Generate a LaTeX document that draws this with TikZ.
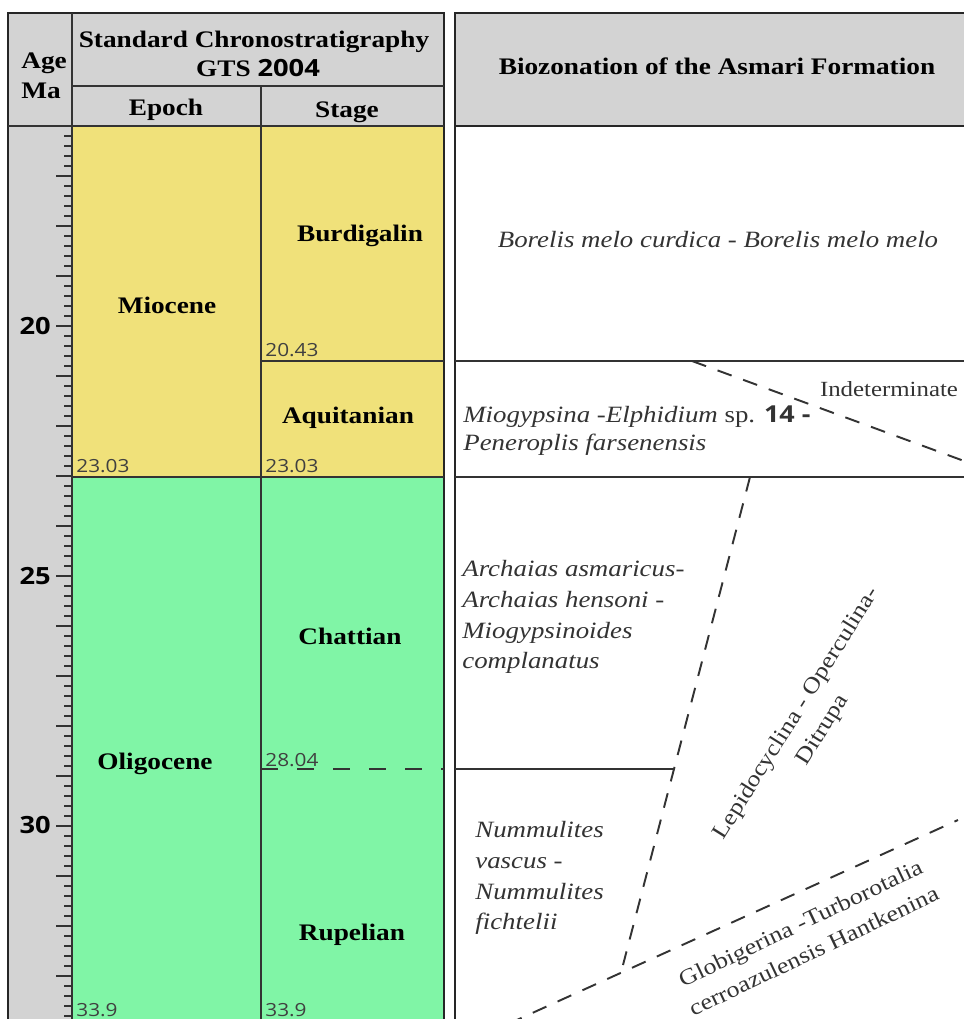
\documentclass[tikz,border=0pt]{standalone}
\usepackage{fontspec}
\setmainfont{Liberation Serif}[FakeStretch=1.15]
\newfontfamily\numfont{Open Sans}[FakeStretch=1.15]
\usepackage{tikz}
\usetikzlibrary{calc}

\definecolor{hdrgray}{RGB}{211,211,211}
\definecolor{mioyellow}{RGB}{240,225,122}
\definecolor{oligreen}{RGB}{128,245,166}

\begin{document}
\begin{tikzpicture}[x=0.02cm, y=-0.02cm,
    framestroke/.style={line width=1.6pt, black!85},
    thinrule/.style={line width=1.1pt, black!80},
    zonedash/.style={line width=1.1pt, black!80, dash pattern=on 8.5pt off 7pt},
    stagedash/.style={line width=1.1pt, black!80, dash pattern=on 9.5pt off 11pt},
    headtxt/.style={font=\fontsize{13.5}{17}\selectfont\bfseries, inner sep=0pt},
    agetxt/.style={font=\numfont\fontsize{13.5}{16}\selectfont\bfseries, anchor=east, inner sep=0pt},
    bndtxt/.style={font=\numfont\fontsize{10.3}{12}\selectfont, text=black!75, anchor=base west, inner sep=0pt},
    zonetxt/.style={font=\fontsize{13.3}{17.5}\selectfont\itshape, text=black!80, align=left, inner sep=0pt},
    slanttxt/.style={font=\fontsize{12.8}{17.5}\selectfont, text=black!80, align=center, inner sep=0pt}]

    % Column edges, in pixels of the sheet
    \def\agecol{72}
    \def\stgcol{261}
    \def\lefttab{444}
    \def\righttab{455}
    \def\headY{126}
    \def\botY{1035}

    \useasboundingbox (0,0) rectangle (964,1019);
    \clip (0,0) rectangle (964,1019);

    % Fill the headers, the age column and the epochs
    \fill[hdrgray] (8,13) rectangle (\lefttab,\headY);
    \fill[hdrgray] (8,\headY) rectangle (\agecol,\botY);
    \fill[mioyellow] (\agecol,\headY) rectangle (\lefttab,477);
    \fill[oligreen] (\agecol,477) rectangle (\lefttab,\botY);
    \fill[hdrgray] (\righttab,13) rectangle (980,\headY);

    % Ticks of the age scale, one every 0.2 Ma
    \foreach \i in {1,...,89}{
        \pgfmathtruncatemacro\tlen{mod(\i,5)==0 ? 16 : 8}
        \draw[thinrule] (\agecol-\tlen,\headY+10*\i) -- (\agecol,\headY+10*\i);
    }
    \node (ma20) at (51,326) [agetxt] {20};
    \node (ma25) at (51,576) [agetxt] {25};
    \node (ma30) at (51,825) [agetxt] {30};

    % Left table: frame and unit boundaries
    \draw[framestroke] (8,\botY) -- (8,13) -- (\lefttab,13) -- (\lefttab,\botY);
    \draw[thinrule] (\agecol,13) -- (\agecol,\botY);
    \draw[thinrule] (\agecol,86) -- (\lefttab,86);
    \draw[thinrule] (8,\headY) -- (\lefttab,\headY);
    \draw[thinrule] (\stgcol,86) -- (\stgcol,\botY);
    \draw[thinrule] (\agecol,477) -- (\lefttab,477);
    \draw[thinrule] (\stgcol,361) -- (\lefttab,361);
    \draw[stagedash] (\stgcol,769) -- (\lefttab,769);

    % Right table: frame and zone boundaries
    \draw[framestroke] (\righttab,\botY) -- (\righttab,13) -- (980,13);
    \draw[framestroke] (\righttab,\headY) -- (980,\headY);
    \draw[thinrule] (\righttab,361) -- (980,361);
    \draw[thinrule] (\righttab,477) -- (980,477);

    \coordinate (ind-a) at (692,361);
    \coordinate (ind-b) at (975,465);
    \coordinate (lep-a) at (750,477);
    \coordinate (lep-k) at (674,769);
    \coordinate (lep-b) at (623,965);
    \coordinate (glo-a) at (508,1024);
    \coordinate (glo-b) at (958,820);
    \coordinate (nummo) at (\righttab,769);
    \draw[zonedash] (ind-a) -- (ind-b);
    \draw[thinrule] (nummo) -- (lep-k);
    \draw[zonedash] (lep-a) -- (lep-b);
    \draw[zonedash] (glo-a) -- (glo-b);

    % Header texts
    \node (age) at (21,68) [headtxt, anchor=base west] {Age};
    \node (ma) at (21,98) [headtxt, anchor=base west] {Ma};
    \node (std) at (254,47) [headtxt, anchor=base] {Standard Chronostratigraphy};
    \node (gts) at (258,76) [headtxt, anchor=base] {GTS {\numfont 2004}};
    \node (epoch) at (166,115) [headtxt, anchor=base] {Epoch};
    \node (stage) at (347,117) [headtxt, anchor=base] {Stage};
    \node (bioz) at (717,74) [headtxt, anchor=base] {Biozonation of the Asmari Formation};

    % Epochs and stages
    \node (mio) at (167,313) [headtxt, anchor=base] {Miocene};
    \node (oli) at (155,769) [headtxt, anchor=base] {Oligocene};
    \node (burd) at (360,241) [headtxt, anchor=base] {Burdigalin};
    \node (aqui) at (348,423) [headtxt, anchor=base] {Aquitanian};
    \node (chat) at (350,644) [headtxt, anchor=base] {Chattian};
    \node (rupe) at (352,940) [headtxt, anchor=base] {Rupelian};

    % Boundary ages
    \node (b2043) at (265,356) [bndtxt] {20.43};
    \node (e2303) at (76,472) [bndtxt] {23.03};
    \node (s2303) at (265,472) [bndtxt] {23.03};
    \node (s2804) at (265,766) [bndtxt] {28.04};
    \node (e339) at (76,1016) [bndtxt] {33.9};
    \node (s339) at (265,1016) [bndtxt] {33.9};

    % Biozones
    \node (borelis) at (718,240) [zonetxt] {Borelis melo curdica - Borelis melo melo};
    \node (miogyp) at (463,431) [zonetxt, anchor=west, font=\fontsize{13.3}{16}\selectfont\itshape]
        {Miogypsina -Elphidium {\upshape sp.} {\numfont\upshape\bfseries 14 -}\\Peneroplis farsenensis};
    \node (indet) at (889,389) [slanttxt, font=\fontsize{12.3}{15}\selectfont] {Indeterminate};
    \node (archaias) at (462,617) [zonetxt, anchor=west]
        {Archaias asmaricus-\\Archaias hensoni -\\Miogypsinoides\\complanatus};
    \node (nummul) at (475,878) [zonetxt, anchor=west]
        {Nummulites\\vascus -\\Nummulites\\fichtelii};
    \node (lepido) at (810,722) [slanttxt, rotate=58] {Lepidocyclina - Operculina-\\Ditrupa};
    \node (globig) at (807,937) [slanttxt, rotate=25.5] {Globigerina -Turborotalia\\cerroazulensis Hantkenina};
\end{tikzpicture}
\end{document}
